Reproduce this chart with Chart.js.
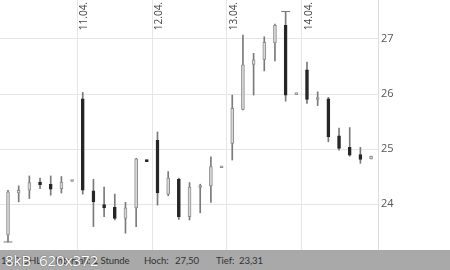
<!DOCTYPE html>
<html><head><meta charset="utf-8">
<script src="https://cdn.jsdelivr.net/npm/chart.js@4/dist/chart.umd.min.js"></script>
<style>
html,body{margin:0;padding:0;background:#fff;}
#wrap{position:relative;width:450px;height:270px;overflow:hidden;font-family:'Open Sans',sans-serif;}
#chartBox{position:absolute;left:0;top:0;width:450px;height:250px;}
#bar{position:absolute;left:0;top:250px;width:450px;height:20px;background:#a9a9a9;}
.t{position:absolute;top:4px;font-family:Lato,sans-serif;font-size:9.6px;letter-spacing:-0.1px;color:#333;white-space:nowrap;line-height:14px;}
#wm{position:absolute;left:5px;top:251px;font-size:15px;line-height:18px;color:#fff;white-space:nowrap;text-shadow:0 0 1px #666,0 0 1px #666;}
</style>
</head><body>
<div id="wrap">
  <div id="chartBox"><canvas id="c"></canvas></div>
  <div id="bar">
    <span class="t" style="left:1px">10,0 DHL</span>
    <span class="t" style="left:55px">Intervall: 1 Stunde</span>
    <span class="t" style="left:144px">Hoch:</span><span class="t" style="left:175px">27,50</span>
    <span class="t" style="left:216px">Tief:</span><span class="t" style="left:239px">23,31</span>
  </div>
  <div id="wm">8kB&nbsp; 620x372</div>
</div>
<script>
// Hourly candles (open, high, low, close)
const openVals  = [23.44,24.20,24.25,24.40,24.36,24.28,24.41, 25.91,24.24,23.99,23.94,23.74,23.93,24.80, 25.16,24.18,24.45,23.77,24.30,24.33,24.66, 25.10,25.72,26.54,26.63,26.93,27.25,25.99, 26.44,25.90,25.91,25.24,25.03,24.90,24.82];
const highVals  = [24.25,24.33,24.51,24.47,24.51,24.50,24.41, 26.03,24.45,24.31,24.18,24.03,24.83,24.80, 25.31,24.59,24.47,24.39,24.36,24.86,24.66, 25.98,27.07,26.74,27.04,27.27,27.50,25.99, 26.58,26.04,25.94,25.38,25.39,25.03,24.87];
const lowVals   = [23.31,24.04,24.10,24.28,24.16,24.20,24.41, 24.18,23.59,23.77,23.71,23.47,23.59,24.77, 23.98,24.15,23.72,23.71,23.84,24.03,24.66, 24.80,25.71,25.98,26.42,26.60,25.87,25.99, 25.83,25.79,25.13,24.98,24.87,24.74,24.82];
const closeVals = [24.22,24.25,24.39,24.35,24.27,24.40,24.41, 24.25,24.04,23.93,23.74,23.93,24.82,24.77, 24.20,24.47,23.77,24.31,24.33,24.68,24.66, 25.74,26.53,26.62,26.94,27.25,25.98,25.99, 25.90,25.91,25.22,25.01,24.89,24.81,24.87];
const dateTickLabels = ['11.04.','12.04.','13.04.','14.04.'];
const dateTickStart  = [7,14,21,28];   // index of first candle of each day
const yTickValues    = [24,25,26,27];
const extremeIdx     = [0,26];          // Tief / Hoch
const extremeVals    = [23.31,27.50];

const upFill='#d9d9d9', upBorder='#8e8e8e', downFill='#262626', wickColor='#7a7a7a';

const wickData = lowVals.map((l,i)=>({x:i,y:[l,highVals[i]]}));
const bodyData = openVals.map((o,i)=>({x:i,y:[o,closeVals[i]]}));
const isUp = openVals.map((o,i)=>closeVals[i]>=o);

const dateLabelPlugin = {
  id:'dateLabels',
  afterDraw(chart){
    const ctx=chart.ctx, xs=chart.scales.x, top=chart.chartArea.top;
    ctx.save();
    ctx.font='10px "Open Sans", sans-serif';
    ctx.fillStyle='#444';
    ctx.textAlign='right';
    ctx.textBaseline='alphabetic';
    dateTickStart.forEach((s,k)=>{
      const px=xs.getPixelForValue(s-0.5);
      ctx.save();
      ctx.translate(px+10,top+2);
      ctx.rotate(-Math.PI/2);
      ctx.fillText(dateTickLabels[k],0,0);
      ctx.restore();
    });
    ctx.restore();
  }
};

new Chart(document.getElementById('c'),{
  type:'bar',
  data:{datasets:[
    {type:'line',data:extremeIdx.map((i,k)=>({x:i,y:extremeVals[k]})),showLine:false,
     pointStyle:'line',pointRadius:4.5,pointBorderColor:wickColor,pointBorderWidth:1,order:0},
    {data:bodyData,grouped:false,barThickness:3,minBarLength:2,borderSkipped:false,borderWidth:1,
     backgroundColor:isUp.map(u=>u?upFill:downFill),borderColor:isUp.map(u=>u?upBorder:downFill),order:1},
    {data:wickData,grouped:false,barThickness:1,backgroundColor:wickColor,borderWidth:0,order:2}
  ]},
  options:{
    responsive:true,maintainAspectRatio:false,animation:false,
    layout:{padding:0,autoPadding:false},
    plugins:{legend:{display:false},tooltip:{enabled:false}},
    scales:{
      x:{type:'linear',min:-0.75,max:34.65,offset:false,
         afterBuildTicks(s){s.ticks=dateTickStart.map(v=>({value:v-0.5}));},
         ticks:{display:false,autoSkip:false},
         grid:{color:'#e6e6e6',drawTicks:false,offset:false},
         border:{display:false}},
      y:{type:'linear',position:'right',min:23.164,max:27.709,
         afterBuildTicks(s){s.ticks=yTickValues.map(v=>({value:v}));},
         afterFit(s){s.width=72;s.paddingTop=0;s.paddingBottom=0;},
         ticks:{color:'#555',padding:3,font:{family:'"Open Sans", sans-serif',size:11},callback:v=>String(v)},
         grid:{color:'#e6e6e6',drawTicks:false},
         border:{display:true,color:'#dcdcdc'}}
    }
  },
  plugins:[dateLabelPlugin]
});
</script>
</body></html>
